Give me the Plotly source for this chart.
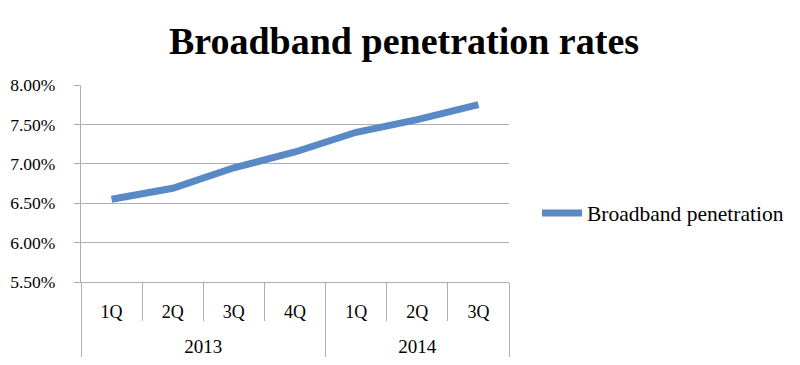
import plotly.graph_objects as go

years = ["2013", "2013", "2013", "2013", "2014", "2014", "2014"]
quarters = ["1Q", "2Q", "3Q", "4Q", "1Q", "2Q", "3Q"]
penetration = [0.0655, 0.0669, 0.0695, 0.0715, 0.0740, 0.0756, 0.0775]
series_name = "Broadband penetration"
title_text = "Broadband penetration rates"

FONT = "Liberation Serif"
GRID = "#aeaeae"

idx = list(range(len(quarters)))
# group (year) boundaries and centres in category-index units
group_names, group_start = [], []
for i, yv in enumerate(years):
    if not group_names or group_names[-1] != yv:
        group_names.append(yv)
        group_start.append(i)
group_end = group_start[1:] + [len(years)]
bounds = [s - 0.5 for s in group_start] + [len(years) - 0.5]
centres = [(s + e - 1) / 2 for s, e in zip(group_start, group_end)]
xr = [-0.5, len(quarters) - 0.5]

fig = go.Figure()
fig.add_trace(go.Scatter(
    x=idx, y=penetration, mode="lines", name=series_name,
    line=dict(color="#5a8ac6", width=7),
))
fig.add_trace(go.Scatter(x=bounds, y=[None] * len(bounds), xaxis="x2",
                         showlegend=False, hoverinfo="skip"))
fig.add_trace(go.Scatter(x=centres, y=[None] * len(centres), xaxis="x3",
                         showlegend=False, hoverinfo="skip"))

fig.update_layout(
    width=792, height=349,
    margin=dict(l=73, r=290, t=77, b=75),
    paper_bgcolor="white", plot_bgcolor="white",
    title=dict(text="<b>" + title_text + "</b>", x=0.5, xanchor="center",
               xref="container", y=0.905, yanchor="middle",
               font=dict(family=FONT, size=38, color="black")),
    font=dict(family=FONT, size=17, color="black"),
    showlegend=True,
    legend=dict(x=1.063, xanchor="left", y=0.35, yanchor="middle",
                font=dict(family=FONT, size=21.5), itemwidth=40,
                bgcolor="rgba(0,0,0,0)"),
    yaxis=dict(range=[0.055, 0.08], dtick=0.005, tickformat=".2%",
               automargin=False,
               showgrid=True, gridcolor=GRID, gridwidth=1.3,
               showline=True, linecolor=GRID, linewidth=1.3,
               ticks="outside", ticklen=6, tickcolor=GRID, tickwidth=1.3,
               ticklabelstandoff=15,
               zeroline=False, tickfont=dict(size=17.5)),
    xaxis=dict(range=xr, tickmode="array", tickvals=idx, ticktext=quarters,
               automargin=False,
               showgrid=False, zeroline=False,
               showline=True, linecolor=GRID, linewidth=1.3,
               ticks="", ticklabelstandoff=13,
               minor=dict(ticks="outside", tick0=-0.5, dtick=1, ticklen=38,
                          tickcolor=GRID, tickwidth=1.3, showgrid=False),
               tickfont=dict(size=18)),
    xaxis2=dict(range=xr, overlaying="x", anchor="y", side="bottom",
                automargin=False,
                tickmode="array", tickvals=bounds, ticktext=[""] * len(bounds),
                showgrid=False, zeroline=False, showline=False,
                ticks="outside", ticklen=76, tickcolor=GRID, tickwidth=1.3),
    xaxis3=dict(range=xr, overlaying="x", anchor="y", side="bottom",
                automargin=False,
                tickmode="array", tickvals=centres, ticktext=group_names,
                showgrid=False, zeroline=False, showline=False,
                ticks="", ticklabelstandoff=51, tickfont=dict(size=19)),
)

fig.write_html("out.html")
